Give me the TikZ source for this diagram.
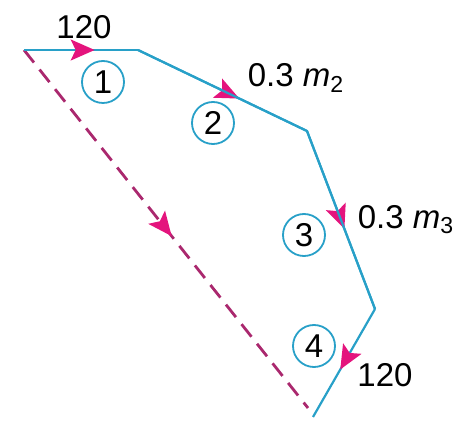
\documentclass[tikz,border=0pt]{standalone}
\usepackage{fontspec}
\setmainfont{Liberation Sans}
\usepackage{xcolor}
\usetikzlibrary{arrows.meta, decorations.markings, positioning}

\definecolor{pipecyan}{RGB}{40,160,200}
\definecolor{flowpink}{RGB}{228,20,125}
\definecolor{dashpurple}{RGB}{170,40,110}

\begin{document}
\begin{tikzpicture}[
  x=0.5pt, y=-0.5pt,
  font=\fontsize{16.5}{18}\selectfont,
  >={Stealth[length=12pt, width=10.5pt, inset=2.5pt]},
  pipe/.style={draw=pipecyan, line width=1.1pt, line join=miter},
  flowat/.style={postaction={decorate, decoration={markings,
                 mark=at position #1 with {\arrow[flowpink]{>}}}}},
  num/.style={circle, draw=pipecyan, line width=0.9pt, minimum size=21pt,
              inner sep=0pt},
  lbl/.style={inner sep=0pt}
]
\useasboundingbox (0,0) rectangle (472,427);

% --- corner points of the path ---
\coordinate (p0) at (24,50);
\coordinate (p1) at (138,50);
\coordinate (p2) at (307,131);
\coordinate (p3) at (375,309);
\coordinate (p4) at (313,417);
\coordinate (q)  at (308,408);

% --- dashed direct route ---
\draw[dashpurple, line width=1.4pt, dash pattern=on 8pt off 4.5pt,
      flowat=0.52] (p0) -- (q);

% --- solid route, one segment at a time ---
\draw[pipe, flowat=0.62] (p0) -- (p1);
\draw[pipe, flowat=0.6]  (p1) -- (p2);
\draw[pipe, flowat=0.55] (p2) -- (p3);
\draw[pipe, flowat=0.56] (p3) -- (p4);
\draw[pipe] (p1) -- (p2) -- (p3);

% --- numbered circles ---
\foreach \n/\x/\y in {1/103/82, 2/213/123, 3/304/235, 4/314/346} {
  \node[num] (c\n) at (\x,\y) {\n};
}

% --- labels ---
\node[lbl] (in)  at (84,27)   {120};
\node[lbl] (m2)  at (296,78)  {0.3 \textit{m}\textsubscript{2}};
\node[lbl] (m3)  at (406,220) {0.3 \textit{m}\textsubscript{3}};
\node[lbl] (out) at (385,375) {120};
\end{tikzpicture}
\end{document}
